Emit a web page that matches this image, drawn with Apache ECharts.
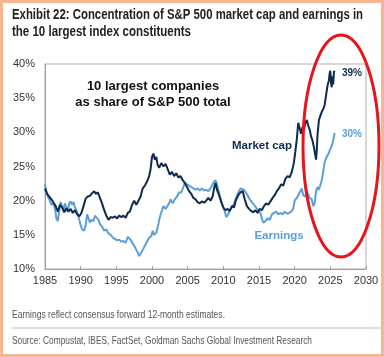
<!DOCTYPE html>
<html>
<head>
<meta charset="utf-8">
<script src="https://cdn.jsdelivr.net/npm/echarts@6/dist/echarts.min.js"></script>
<style>
html,body{margin:0;padding:0;background:#fff;}
#c{width:384px;height:357px;}
</style>
</head>
<body>
<div id="c"></div>
<script>
var titleLines = ["Exhibit 22: Concentration of S&P 500 market cap and earnings in", "the 10 largest index constituents"];
var noteText = "Earnings reflect consensus forward 12-month estimates.";
var sourceText = "Source: Compustat, IBES, FactSet, Goldman Sachs Global Investment Research";
var yTicks = [10, 15, 20, 25, 30, 35, 40];
var xTicks = [1985, 1990, 1995, 2000, 2005, 2010, 2015, 2020, 2025, 2030];

var mktYears = [1985.0,1985.3,1985.6,1985.9,1986.2,1986.5,1986.8,1987.1,1987.4,1987.7,1988.0,1988.3,1988.6,1988.9,1989.2,1989.5,1989.8,1990.1,1990.4,1990.7,1991.0,1991.3,1991.6,1991.9,1992.1,1992.4,1992.7,1993.0,1993.3,1993.6,1993.9,1994.2,1994.5,1994.8,1995.1,1995.4,1995.7,1996.0,1996.3,1996.6,1996.9,1997.2,1997.5,1997.8,1998.1,1998.4,1998.7,1999.0,1999.3,1999.6,1999.8,2000.0,2000.2,2000.4,2000.6,2000.8,2001.0,2001.3,2001.6,2001.9,2002.2,2002.5,2002.8,2003.1,2003.4,2003.7,2004.0,2004.3,2004.6,2004.9,2005.2,2005.5,2005.8,2006.1,2006.4,2006.7,2007.0,2007.3,2007.6,2007.9,2008.2,2008.5,2008.7,2008.9,2009.1,2009.4,2009.7,2010.0,2010.3,2010.6,2010.9,2011.2,2011.5,2011.8,2012.1,2012.4,2012.7,2013.0,2013.3,2013.6,2013.9,2014.2,2014.5,2014.8,2015.1,2015.4,2015.7,2016.0,2016.3,2016.6,2016.9,2017.2,2017.5,2017.8,2018.1,2018.4,2018.7,2019.0,2019.3,2019.6,2019.9,2020.1,2020.3,2020.5,2020.7,2020.9,2021.1,2021.3,2021.5,2021.7,2021.9,2022.1,2022.3,2022.5,2022.7,2022.9,2023.0,2023.1,2023.2,2023.4,2023.6,2023.8,2024.0,2024.2,2024.4,2024.6,2024.8,2024.9,2025.0,2025.1,2025.2,2025.3,2025.4,2025.5,2025.6];
var mktShare = [21.8,21.0,20.6,20.2,19.7,19.2,18.4,19.4,19.0,18.3,18.9,18.4,18.8,18.2,18.6,18.0,17.7,18.2,19.2,20.3,20.6,20.7,21.1,21.4,21.0,21.2,20.4,19.6,18.6,17.8,17.2,17.6,17.5,17.7,17.4,17.8,17.6,17.8,17.5,18.2,18.4,19.4,20.0,19.4,20.0,20.6,21.8,22.2,22.8,23.6,24.6,26.4,26.9,26.0,26.4,25.2,24.8,25.5,25.0,25.4,24.6,23.8,24.2,23.6,24.0,23.4,23.6,23.0,22.6,22.0,21.4,21.0,20.4,20.2,19.8,19.6,19.9,19.7,20.0,20.4,20.0,20.6,21.8,22.6,21.6,20.8,19.8,19.0,18.6,18.8,18.5,19.2,19.0,20.2,20.8,21.2,21.4,20.2,19.2,18.8,18.5,18.3,18.6,18.2,18.8,18.6,19.2,19.6,19.4,19.9,20.4,20.8,21.4,21.8,22.4,22.2,23.2,23.6,23.4,24.2,25.6,27.2,29.0,31.4,30.6,29.8,30.8,30.4,31.4,31.8,31.0,30.4,29.4,28.8,27.8,26.6,26.0,27.4,29.6,31.8,32.4,33.0,33.4,34.0,35.4,36.8,37.6,38.6,39.0,37.2,36.6,38.2,37.0,38.8,39.0];

var earnYears = [1985.0,1985.2,1985.4,1985.6,1985.9,1986.2,1986.4,1986.6,1986.8,1987.0,1987.2,1987.4,1987.6,1987.8,1988.0,1988.2,1988.4,1988.6,1988.8,1989.0,1989.2,1989.4,1989.6,1989.8,1990.0,1990.2,1990.5,1990.7,1990.9,1991.1,1991.3,1991.5,1991.8,1992.0,1992.2,1992.5,1992.7,1993.0,1993.3,1993.6,1993.9,1994.2,1994.5,1994.8,1995.1,1995.4,1995.7,1996.0,1996.3,1996.6,1996.9,1997.2,1997.5,1997.8,1998.0,1998.2,1998.4,1998.7,1999.0,1999.3,1999.6,1999.9,2000.1,2000.3,2000.6,2000.9,2001.1,2001.4,2001.6,2001.9,2002.1,2002.4,2002.6,2002.9,2003.2,2003.5,2003.8,2004.1,2004.4,2004.6,2004.9,2005.2,2005.5,2005.8,2006.1,2006.4,2006.7,2007.0,2007.3,2007.6,2007.9,2008.2,2008.4,2008.6,2008.9,2009.1,2009.4,2009.7,2010.0,2010.2,2010.4,2010.7,2010.9,2011.2,2011.5,2011.8,2012.1,2012.4,2012.6,2012.9,2013.1,2013.4,2013.7,2014.0,2014.3,2014.6,2014.9,2015.2,2015.4,2015.6,2015.9,2016.2,2016.5,2016.8,2017.1,2017.4,2017.7,2018.0,2018.3,2018.6,2018.9,2019.2,2019.5,2019.8,2020.0,2020.3,2020.5,2020.7,2021.0,2021.2,2021.5,2021.7,2021.9,2022.1,2022.4,2022.6,2022.8,2023.0,2023.2,2023.4,2023.6,2023.8,2024.0,2024.2,2024.4,2024.6,2024.8,2025.0,2025.2,2025.4,2025.6];
var earnShare = [22.4,21.2,20.6,20.2,19.4,19.6,18.8,17.4,17.0,18.6,19.8,19.2,18.6,19.6,19.0,18.4,19.6,19.9,19.4,19.8,19.0,18.6,18.0,17.2,16.4,15.8,15.6,16.4,18.0,17.4,16.8,17.2,17.0,17.8,18.0,17.2,16.6,16.2,15.6,15.8,15.2,15.0,14.6,14.4,14.2,14.3,14.0,14.1,13.8,14.7,14.4,13.9,13.4,12.8,12.4,11.9,12.2,12.8,13.4,14.0,14.6,14.8,15.6,15.0,15.3,16.6,17.6,18.6,19.2,18.8,18.6,19.6,20.2,19.6,20.2,20.6,21.2,21.2,22.0,22.6,22.4,22.2,22.0,21.8,21.6,21.8,21.5,21.8,21.5,21.6,21.4,21.8,21.6,22.6,23.0,22.4,21.2,20.0,19.0,18.4,17.6,18.0,18.6,19.0,19.6,20.4,21.2,21.8,22.0,21.6,21.4,20.8,20.2,19.8,19.4,19.0,18.6,18.2,17.4,16.8,17.0,17.4,17.2,18.0,18.2,18.4,18.0,18.2,18.0,18.4,18.1,18.2,18.4,18.8,20.0,20.4,20.6,21.2,21.8,20.8,20.6,21.4,21.2,20.4,20.2,19.2,19.6,21.4,22.0,21.6,21.4,23.0,24.2,25.6,26.2,26.6,27.0,27.6,28.0,28.8,29.9];

var darkBlue = '#0e2a4e';
var lightBlue = '#5b9fd8';

function pairs(xs, ys) {
  var out = [];
  for (var i = 0; i < xs.length; i++) out.push([xs[i], ys[i]]);
  return out;
}

var sans = '"Liberation Sans", Arial, Helvetica, sans-serif';
var measureCtx = document.createElement('canvas').getContext('2d');
function fitText(text, font, targetWidth, x, y, color) {
  measureCtx.font = font;
  var w = measureCtx.measureText(text).width;
  return {type: 'text', x: x, y: y, scaleX: targetWidth / w, scaleY: 1,
          style: {text: text, x: 0, y: 0, textVerticalAlign: 'middle', font: font, fill: color}};
}

var chart = echarts.init(document.getElementById('c'), null, {renderer: 'canvas'});

chart.setOption({
  backgroundColor: '#ffffff',
  animation: false,
  grid: {left: 45, right: 18, top: 64, bottom: 88, show: true, borderColor: '#b0b0b0', borderWidth: 1, containLabel: false},
  xAxis: {
    type: 'value', min: xTicks[0], max: xTicks[xTicks.length - 1], interval: 5,
    axisLine: {show: true, lineStyle: {color: '#a0a0a0'}},
    axisTick: {show: true, inside: true, length: 3, lineStyle: {color: '#a0a0a0'}},
    splitLine: {show: false},
    axisLabel: {fontFamily: sans, fontSize: 11, color: '#333', margin: 6, formatter: function (v) { return String(v); }}
  },
  yAxis: {
    type: 'value', min: yTicks[0], max: yTicks[yTicks.length - 1], interval: 5,
    axisLine: {show: true, lineStyle: {color: '#a0a0a0'}},
    axisTick: {show: false},
    splitLine: {show: false},
    axisLabel: {fontFamily: sans, fontSize: 11, color: '#333', margin: 10, formatter: '{value}%'}
  },
  series: [
    {name: 'Earnings', type: 'line', data: pairs(earnYears, earnShare), showSymbol: false, symbol: 'none',
     lineStyle: {color: lightBlue, width: 2}, z: 2},
    {name: 'Market cap', type: 'line', data: pairs(mktYears, mktShare), showSymbol: false, symbol: 'none',
     lineStyle: {color: darkBlue, width: 2}, z: 3}
  ],
  graphic: [
    {type: 'rect', shape: {x: 1.5, y: 1.5, width: 381, height: 354}, style: {fill: 'none', stroke: '#f8b592', lineWidth: 3}, z: 100},
    fitText(titleLines[0], 'bold 14px ' + sans, 351, 12, 15, '#222'),
    fitText(titleLines[1], 'bold 14px ' + sans, 179, 12, 32, '#222'),
    {type: 'text', style: {text: '10 largest companies', x: 153, y: 86, textAlign: 'center', textVerticalAlign: 'middle', font: 'bold 13px ' + sans, fill: '#111'}},
    {type: 'text', style: {text: 'as share of S&P 500 total', x: 153, y: 102, textAlign: 'center', textVerticalAlign: 'middle', font: 'bold 13px ' + sans, fill: '#111'}},
    {type: 'text', style: {text: 'Market cap', x: 262, y: 146, textAlign: 'center', textVerticalAlign: 'middle', font: 'bold 11.5px ' + sans, fill: darkBlue}},
    {type: 'text', style: {text: 'Earnings', x: 279, y: 236, textAlign: 'center', textVerticalAlign: 'middle', font: 'bold 11.5px ' + sans, fill: lightBlue}},
    {type: 'text', style: {text: '39%', x: 352, y: 73, textAlign: 'center', textVerticalAlign: 'middle', font: 'bold 10px ' + sans, fill: darkBlue}},
    {type: 'text', style: {text: '30%', x: 352, y: 134, textAlign: 'center', textVerticalAlign: 'middle', font: 'bold 10px ' + sans, fill: lightBlue}},
    {type: 'ellipse', shape: {cx: 341, cy: 146, rx: 38, ry: 111}, style: {fill: 'none', stroke: '#e8141c', lineWidth: 3}, z: 50},
    fitText(noteText, '11px ' + sans, 213, 12, 315, '#555'),
    {type: 'line', shape: {x1: 12, y1: 328, x2: 382, y2: 328}, style: {stroke: '#bbbbbb', lineWidth: 1}},
    fitText(sourceText, '11px ' + sans, 300, 12, 341, '#555')
  ]
});
</script>
</body>
</html>
